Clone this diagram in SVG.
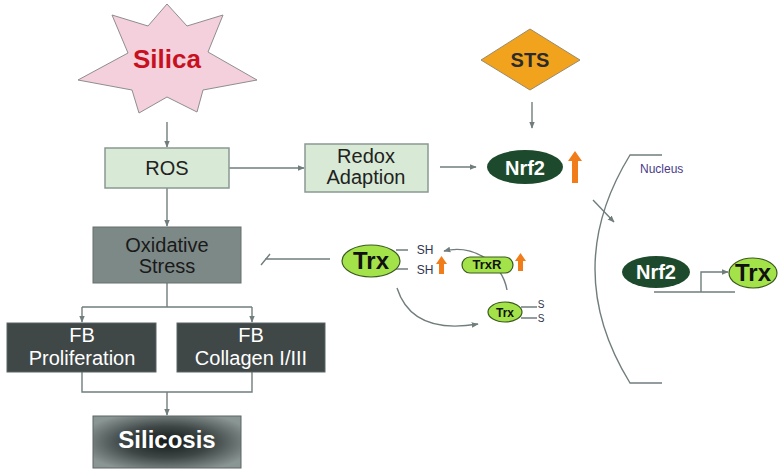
<svg xmlns="http://www.w3.org/2000/svg" width="783" height="473" viewBox="0 0 783 473">
<style>
.t{font-family:"Liberation Sans",Arial,sans-serif;text-anchor:middle}
.b{font-weight:bold}
.ln{fill:none;stroke:#717d7d;stroke-width:1.4}
.lb{fill:#d8ead5;stroke:#8b9892;stroke-width:1.5}
.dk{fill:#3f4747;stroke:#5b6464;stroke-width:1}
.ell{fill:#1d4a2c}
.lg{fill:#a4e24a;stroke:#3a5a1e;stroke-width:1.2}
.or{fill:#f07d1a}
</style>
<defs>
<marker id="ah" viewBox="0 0 10 10" refX="9" refY="5" markerWidth="7" markerHeight="7" orient="auto" markerUnits="userSpaceOnUse">
<path d="M0,1 L10,5 L0,9 Z" fill="#717d7d"/>
</marker>
<radialGradient id="sg" cx="0.5" cy="0.5" r="0.6">
<stop offset="0" stop-color="#151a1a"/>
<stop offset="0.5" stop-color="#3e4646"/>
<stop offset="1" stop-color="#8a9694"/>
</radialGradient>
</defs>

<g id="connectors">
<path class="ln" d="M167,122 L167,147" marker-end="url(#ah)"/>
<path class="ln" d="M229,168 L304,168" marker-end="url(#ah)"/>
<path class="ln" d="M440,167 L476,167" marker-end="url(#ah)"/>
<path class="ln" d="M532,102 L532,128" marker-end="url(#ah)"/>
<path class="ln" d="M167,188 L167,226" marker-end="url(#ah)"/>
<path class="ln" d="M167,283 L167,307 M82,307 L252,307"/>
<path class="ln" d="M82,307 L82,322" marker-end="url(#ah)"/>
<path class="ln" d="M252,307 L252,322" marker-end="url(#ah)"/>
<path class="ln" d="M82,372 L82,392 L252,392 L252,372"/>
<path class="ln" d="M167,392 L167,415" marker-end="url(#ah)"/>
<path class="ln" d="M330,259 L265,259 M261,265 L270,254"/>
<path class="ln" d="M593,200 L614,222" marker-end="url(#ah)"/>
<path class="ln" d="M397,288 Q412,335 478,324" marker-end="url(#ah)"/>
<path class="ln" d="M507,290 C502,262 472,244 444,251" marker-end="url(#ah)"/>
<path class="ln" d="M662,155 L630,155 Q560,269 630,383 L662,383"/>
<path class="ln" d="M654,292 L735,292 M701,292 L701,272 L728,272" marker-end="url(#ah)"/>
</g>

<g id="silica">
<polygon points="167,4 187,26 223,15 208,52 257,80 203,90 197,112 167,97 139,113 132,90 78,80 128,53 112,15 148,26" fill="#f3d0dc" stroke="#8e8e8e" stroke-width="1"/>
<text class="t b" x="167" y="68" font-size="26" fill="#c8101e">Silica</text>
</g>

<g id="sts">
<polygon points="530,29 580,60 530,90 481,60" fill="#f2a31e" stroke="#9a8a6a" stroke-width="1"/>
<text class="t b" x="530" y="67" font-size="20" fill="#2b2b2b">STS</text>
</g>

<g id="ros">
<rect class="lb" x="105" y="148" width="124" height="40"/>
<text class="t" x="167" y="175" font-size="20" fill="#222">ROS</text>
</g>

<g id="redox">
<rect class="lb" x="305" y="144" width="123" height="48"/>
<text class="t" x="366" y="163" font-size="20" fill="#222">Redox</text>
<text class="t" x="366" y="184" font-size="20" fill="#222">Adaption</text>
</g>

<g id="nrf2">
<ellipse class="ell" cx="525" cy="167" rx="38" ry="17"/>
<text class="t b" x="525" y="175" font-size="20" fill="#fff">Nrf2</text>
<path class="or" d="M572,183 L572,161 L568,161 L575,151 L582,161 L578,161 L578,183 Z"/>
</g>

<g id="oxidative">
<rect x="93" y="227" width="148" height="56" fill="#7d8987" stroke="#66706f" stroke-width="1"/>
<text class="t" x="167" y="252" font-size="20" fill="#1a1a1a">Oxidative</text>
<text class="t" x="167" y="273" font-size="20" fill="#1a1a1a">Stress</text>
</g>

<g id="fbprolif">
<rect class="dk" x="7" y="323" width="149" height="49"/>
<text class="t" x="82" y="342" font-size="20" fill="#fff">FB</text>
<text class="t" x="82" y="365" font-size="20" fill="#fff">Proliferation</text>
</g>

<g id="fbcollagen">
<rect class="dk" x="177" y="323" width="148" height="49"/>
<text class="t" x="251" y="342" font-size="20" fill="#fff">FB</text>
<text class="t" x="251" y="365" font-size="20" fill="#fff">Collagen I/III</text>
</g>

<g id="silicosis">
<rect x="93" y="416" width="148" height="52" fill="url(#sg)" stroke="#5b6464" stroke-width="1"/>
<text class="t b" x="167" y="448" font-size="24" fill="#fff">Silicosis</text>
</g>

<g id="trx">
<path class="ln" d="M396,250 L408,250 M396,269 L408,269"/>
<ellipse class="lg" cx="371" cy="261" rx="29" ry="16"/>
<text class="t b" x="371" y="269" font-size="24" fill="#111">Trx</text>
<text class="t" x="425" y="254" font-size="12" fill="#2f3550">SH</text>
<text class="t" x="425" y="274" font-size="12" fill="#2f3550">SH</text>
<path class="or" d="M439,274 L439,264 L436,264 L441.5,256 L447,264 L444,264 L444,274 Z"/>
</g>

<g id="trxr">
<rect class="lg" x="462" y="257" width="51" height="16" rx="8"/>
<text class="t b" x="487" y="269" font-size="13" fill="#111">TrxR</text>
<path class="or" d="M518,271 L518,261 L515,261 L520.5,253 L526,261 L523,261 L523,271 Z"/>
</g>

<g id="trxox">
<path class="ln" d="M521,307 L537,307 M521,318 L537,318"/>
<ellipse class="lg" cx="505" cy="312" rx="17" ry="10"/>
<text class="t b" x="505" y="317" font-size="12" fill="#111">Trx</text>
<text class="t" x="541" y="308" font-size="10" fill="#2f3550">S</text>
<text class="t" x="541" y="322" font-size="10" fill="#2f3550">S</text>
</g>

<g id="nucleus">
<text x="640" y="173" font-family="Liberation Sans,Arial,sans-serif" font-size="12" fill="#4a3a8a">Nucleus</text>
</g>

<g id="nrf2n">
<ellipse class="ell" cx="656" cy="272" rx="34" ry="16"/>
<text class="t b" x="656" y="279" font-size="20" fill="#fff">Nrf2</text>
</g>

<g id="trxn">
<ellipse class="lg" cx="753" cy="273" rx="24" ry="15"/>
<text class="t b" x="753" y="281" font-size="24" fill="#111">Trx</text>
</g>
</svg>
